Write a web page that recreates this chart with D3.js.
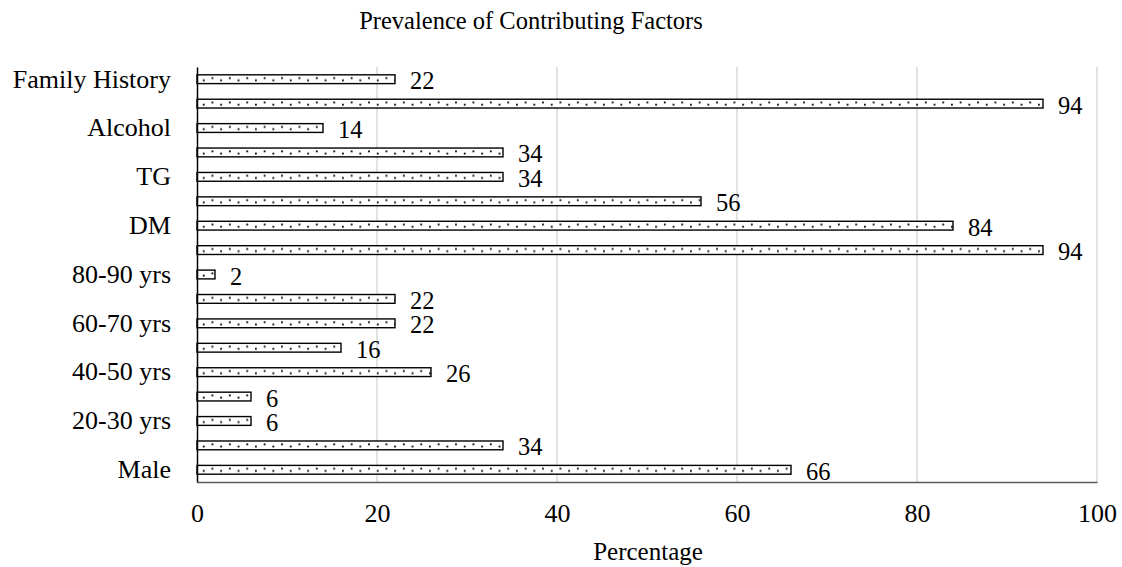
<!DOCTYPE html>
<html>
<head>
<meta charset="utf-8">
<script src="https://cdn.jsdelivr.net/npm/d3@7"></script>
<style>
  body { margin: 0; background: #fff; }
  svg { display: block; font-family: "Liberation Serif", "Times New Roman", serif; }
</style>
</head>
<body>
<svg id="chart" width="1122" height="567"></svg>
<script>
// Factors listed bottom to top; only every other name is printed on the axis
const categories = [
  "Male", "Female", "20-30 yrs", "30-40 yrs", "40-50 yrs", "50-60 yrs",
  "60-70 yrs", "70-80 yrs", "80-90 yrs", "HTN", "DM", "TC",
  "TG", "Smoking", "Alcohol", "Obesity", "Family History"
];
const values = [66, 34, 6, 6, 26, 16, 22, 22, 2, 94, 84, 56, 34, 34, 14, 94, 22];
const xTicks = [0, 20, 40, 60, 80, 100];

const svg = d3.select("#chart");
const margin = { left: 197, right: 25, top: 67, bottom: 85 };
const W = 1122, H = 567;
const innerW = W - margin.left - margin.right;
const innerH = H - margin.top - margin.bottom;

const x = d3.scaleLinear().domain([0, 100]).range([0, innerW]);
const y = d3.scaleBand().domain(categories).range([innerH, 0]).paddingInner(0.64).paddingOuter(0.32);

// Dotted fill: one tile per band step so every bar gets the same dot rows
const defs = svg.append("defs");
const top0 = y(categories[categories.length - 1]);
const pat = defs.append("pattern")
  .attr("id", "dots")
  .attr("patternUnits", "userSpaceOnUse")
  .attr("width", 17.4).attr("height", y.step())
  .attr("patternTransform", `translate(0,${top0})`);
pat.append("rect").attr("width", 17.4).attr("height", y.step()).attr("fill", "#fff");
pat.append("rect").attr("x", 5.8).attr("y", 4.6).attr("width", 1.8).attr("height", 1.8).attr("fill", "#000");
pat.append("rect").attr("x", 14.5).attr("y", 2.4).attr("width", 1.8).attr("height", 1.8).attr("fill", "#000");

const g = svg.append("g").attr("transform", `translate(${margin.left},${margin.top})`);

// Vertical gridlines
g.append("g").selectAll("line")
  .data(xTicks.filter(t => t > 0))
  .join("line")
  .attr("x1", d => x(d)).attr("x2", d => x(d))
  .attr("y1", 0).attr("y2", innerH)
  .attr("stroke", "#d9d9d9").attr("stroke-width", 1.5);

// Bars
g.append("g").selectAll("rect")
  .data(categories)
  .join("rect")
  .attr("x", 0)
  .attr("y", d => y(d))
  .attr("width", (d, i) => x(values[i]))
  .attr("height", y.bandwidth())
  .attr("fill", "url(#dots)")
  .attr("stroke", "#000")
  .attr("stroke-width", 1.4);

// Value labels
g.append("g").selectAll("text")
  .data(categories)
  .join("text")
  .attr("x", (d, i) => x(values[i]) + 15)
  .attr("y", d => y(d) + y.bandwidth() / 2 + 10)
  .attr("font-size", 24.5)
  .attr("fill", "#000")
  .text((d, i) => values[i]);

// X axis
const xAxis = d3.axisBottom(x).tickValues(xTicks).tickSize(0).tickPadding(22).tickFormat(d3.format("d"));
const xg = g.append("g").attr("transform", `translate(0,${innerH})`).call(xAxis);
xg.select(".domain").attr("stroke", "#595959").attr("stroke-width", 1.5);
xg.selectAll("text").attr("font-size", 26).attr("fill", "#000").attr("font-family", "Liberation Serif");

// Y axis with alternating labels
const yAxis = d3.axisLeft(y).tickSize(0).tickPadding(26)
  .tickFormat((d, i) => i % 2 === 0 ? d : "");
const yg = g.append("g").call(yAxis);
yg.select(".domain").attr("stroke", "#000").attr("stroke-width", 1.5);
yg.selectAll("text").attr("font-size", 26).attr("fill", "#000").attr("font-family", "Liberation Serif");

// Title and axis title
svg.append("text")
  .attr("x", 531).attr("y", 29)
  .attr("text-anchor", "middle")
  .attr("font-size", 24.5)
  .text("Prevalence of Contributing Factors");

svg.append("text")
  .attr("x", 648).attr("y", 560)
  .attr("text-anchor", "middle")
  .attr("font-size", 25)
  .text("Percentage");
</script>
</body>
</html>
